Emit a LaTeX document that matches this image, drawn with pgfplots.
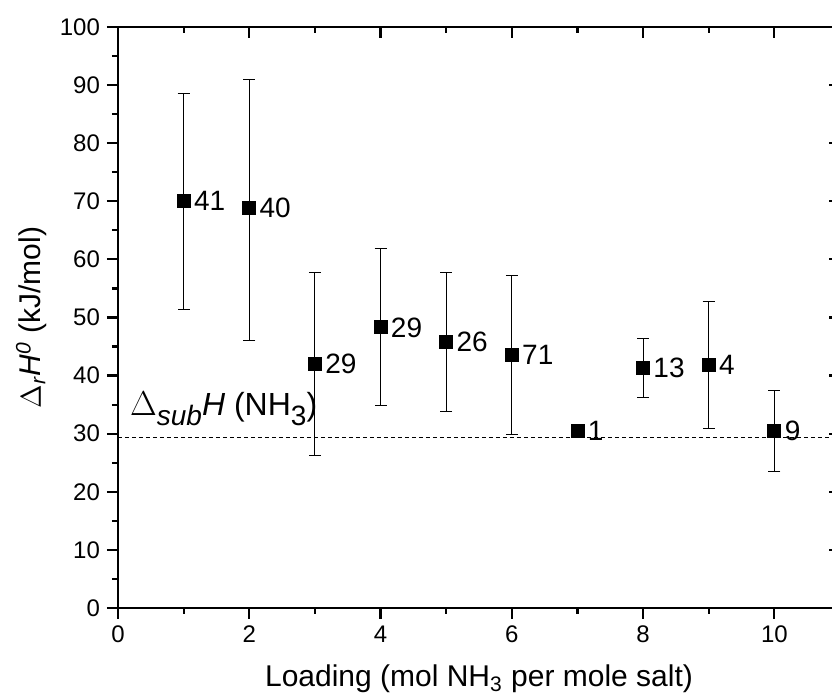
\documentclass[border=0pt]{standalone}
\usepackage{fontspec}
\setmainfont{Liberation Sans}
\usepackage{pgfplots}
\usepackage{pgfplotstable}
\pgfplotsset{compat=1.18}

% points with error bars (loading 7 has none)
\pgfplotstableread{
x   y     ep    em
1   70.0  18.5  18.7
2   68.8  22.2  22.7
3   42.0  15.7  15.7
4   48.3  13.5  13.5
5   45.8  12.0  12.0
6   43.5  13.7  13.7
8   41.3   5.0   5.0
9   41.8  10.9  10.9
10  30.5   7.0   7.0
}\errdata

\pgfplotstableread{
x   y     lab
1   70.0  41
2   68.8  40
3   42.0  29
4   48.3  29
5   45.8  26
6   43.5  71
7   30.5  1
8   41.3  13
9   41.8  4
10  30.5  9
}\pts

\newcommand\lowsub[1]{\raisebox{-5pt}{\fontsize{14}{14}\selectfont #1}}

\begin{document}
\begin{tikzpicture}
\pgfplotsset{
  common/.style={
    width=361pt, height=290.5pt, scale only axis,
    xmin=0, xmax=11, ymin=0, ymax=100,
    xtick={0,2,...,10}, ytick={0,10,...,100},
    minor x tick num=1, minor y tick num=1,
    major tick length=5.5pt, minor tick length=3pt,
    every tick/.style={black, line width=1.1pt},
    axis line style={line width=1.3pt},
    /pgf/number format/assume math mode=true,
    tick label style={font=\fontsize{12}{14}\selectfont},
    label style={font=\fontsize{15}{18}\selectfont},
  }
}
% top and right: ticks inside
\begin{axis}[common, axis x line*=top, axis y line*=right, tick align=inside,
  xticklabels={}, yticklabels={}]
\end{axis}
% bottom and left: ticks outside
\begin{axis}[common, axis x line*=bottom, axis y line*=left, tick align=outside,
  xlabel={Loading (mol NH\textsubscript{3} per mole salt)},
  ylabel={$\Delta$\textsubscript{\textit{r}}\textit{H}\textsuperscript{\textit{0}} (kJ/mol)},
  xlabel style={at={(axis description cs:0.5,0)}, anchor=base, yshift=-39.5pt},
  ylabel style={at={(axis description cs:-0.1067,0.5)}, anchor=base, rotate=0},
]
\addplot[black, line width=0.5pt, dash pattern=on 2pt off 1.5pt] coordinates {(0,29.4) (11,29.4)};
\addplot[only marks, mark=none, black,
  error bars/.cd, y dir=both, y explicit,
  error bar style={line width=0.5pt, black},
  error mark options={rotate=90, mark size=3pt, line width=0.5pt}]
  table[x=x, y=y, y error plus=ep, y error minus=em] {\errdata};
\addplot[only marks, mark=square*, mark size=3.25pt, black,
  point meta=explicit symbolic, nodes near coords,
  every node near coord/.append style={anchor=west, inner sep=0pt, xshift=5pt,
    font=\fontsize{14}{16}\selectfont}]
  table[x=x, y=y, meta=lab] {\pts};
\node[anchor=base west, inner sep=0pt, font=\fontsize{16}{18}\selectfont]
  at (axis cs:0.18,33.2) {$\Delta$\lowsub{\textit{sub}}\textit{H} (NH\lowsub{3})};
\end{axis}
\pgfresetboundingbox
\useasboundingbox (-59pt,-46pt) rectangle (357pt,304pt);
\end{tikzpicture}
\end{document}
